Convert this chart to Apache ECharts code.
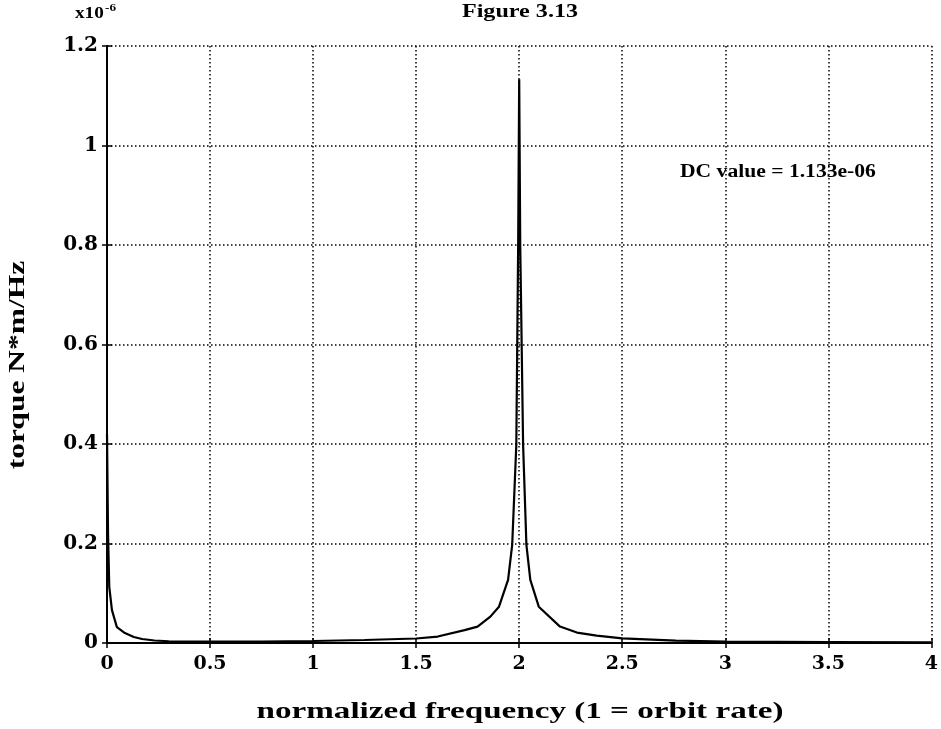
<!DOCTYPE html>
<html>
<head>
<meta charset="utf-8">
<script src="https://cdn.jsdelivr.net/npm/echarts@6/dist/echarts.min.js"></script>
<style>html,body{margin:0;padding:0;background:#fff}#c{width:941px;height:729px}</style>
</head>
<body>
<div id="c"></div>
<script>
// normalized frequency (1 = orbit rate)
const freq = [0, 0.005, 0.011, 0.024, 0.048, 0.087, 0.13, 0.17, 0.23, 0.30, 0.5, 0.75, 1.0, 1.25, 1.5, 1.605, 1.735, 1.798, 1.86, 1.902, 1.946, 1.966, 1.986, 1.995, 2.0, 2.005, 2.019, 2.035, 2.054, 2.095, 2.198, 2.28, 2.376, 2.5, 2.76, 3.0, 3.5, 4.0];
// torque N*m/Hz (x10^-6)
const torque = [0.42, 0.22, 0.113, 0.066, 0.032, 0.02, 0.012, 0.008, 0.005, 0.0035, 0.003, 0.003, 0.004, 0.006, 0.009, 0.013, 0.026, 0.033, 0.053, 0.073, 0.127, 0.197, 0.398, 0.8, 1.133, 0.8, 0.398, 0.197, 0.127, 0.073, 0.033, 0.021, 0.015, 0.0094, 0.0046, 0.003, 0.002, 0.0015];
const xTicks = [0, 0.5, 1, 1.5, 2, 2.5, 3, 3.5, 4];
const yTicks = [0, 0.2, 0.4, 0.6, 0.8, 1, 1.2];
const titleText = 'Figure 3.13';
const xName = 'normalized frequency (1 = orbit rate)';
const yName = 'torque N*m/Hz';
const note = 'DC value = 1.133e-06';

const serif = 'Liberation Serif';
const tickFont = 'DejaVu Serif';
const chart = echarts.init(document.getElementById('c'), null, {renderer: 'canvas'});
const lineBlack = {color: '#000', width: 2};
const grid = {color: '#000', width: 1.5, type: [1.5, 2.5]};
const fmt = v => String(+v.toFixed(1));
const data = freq.map((f, i) => [f, torque[i]]);
const tick = {show: true, inside: true, length: 5, lineStyle: {color: '#000', width: 1.5}};
const txt = (extra) => Object.assign({fontFamily: serif, fontWeight: 'bold', fill: '#000'}, extra);

chart.setOption({
  animation: false,
  backgroundColor: '#fff',
  grid: {left: 107, right: 4, top: 46, bottom: 86},
  xAxis: [{
    type: 'value', min: xTicks[0], max: xTicks[xTicks.length - 1], interval: 0.5,
    position: 'bottom',
    axisLine: {show: true, lineStyle: lineBlack},
    axisTick: tick,
    axisLabel: {formatter: fmt, margin: 12, fontFamily: tickFont, fontWeight: 'bold', fontSize: 19, color: '#000'},
    splitLine: {show: true, lineStyle: grid}
  }, {
    type: 'value', min: xTicks[0], max: xTicks[xTicks.length - 1], interval: 0.5,
    position: 'top',
    axisLine: {show: true, lineStyle: lineBlack},
    axisTick: tick, axisLabel: {show: false}, splitLine: {show: false}
  }],
  yAxis: [{
    type: 'value', min: yTicks[0], max: yTicks[yTicks.length - 1], interval: 0.2,
    position: 'left',
    axisLine: {show: true, lineStyle: lineBlack},
    axisTick: tick,
    axisLabel: {formatter: fmt, margin: 9, fontFamily: tickFont, fontWeight: 'bold', fontSize: 20, color: '#000'},
    splitLine: {show: true, lineStyle: grid}
  }, {
    type: 'value', min: yTicks[0], max: yTicks[yTicks.length - 1], interval: 0.2,
    position: 'right',
    axisLine: {show: true, lineStyle: lineBlack},
    axisTick: tick, axisLabel: {show: false}, splitLine: {show: false}
  }],
  graphic: [{
    type: 'text', x: 520, y: 12, scaleX: 1.27,
    style: txt({text: titleText, fontSize: 19, align: 'center', verticalAlign: 'middle'})
  }, {
    type: 'text', x: 75, y: 22, scaleX: 1.2,
    style: {
      text: '{b|x10}{s|-6}', align: 'left', verticalAlign: 'bottom',
      rich: {
        b: txt({fontSize: 16, verticalAlign: 'bottom'}),
        s: txt({fontSize: 11, verticalAlign: 'top', padding: [0, 0, 8, 1]})
      }
    }
  }, {
    type: 'text', x: 680, y: 172, scaleX: 1.2,
    style: txt({text: note, fontSize: 18, align: 'left', verticalAlign: 'middle'})
  }, {
    type: 'text', x: 520, y: 712, scaleX: 1.44,
    style: txt({text: xName, fontSize: 23, align: 'center', verticalAlign: 'middle'})
  }, {
    type: 'text', x: 18, y: 365, rotation: Math.PI / 2, scaleX: 1.37,
    style: txt({text: yName, fontSize: 23, align: 'center', verticalAlign: 'middle'})
  }],
  series: [{
    type: 'line', data: data, xAxisIndex: 0, yAxisIndex: 0,
    showSymbol: false, smooth: false,
    lineStyle: {color: '#000', width: 2.2}
  }]
});
</script>
</body>
</html>
